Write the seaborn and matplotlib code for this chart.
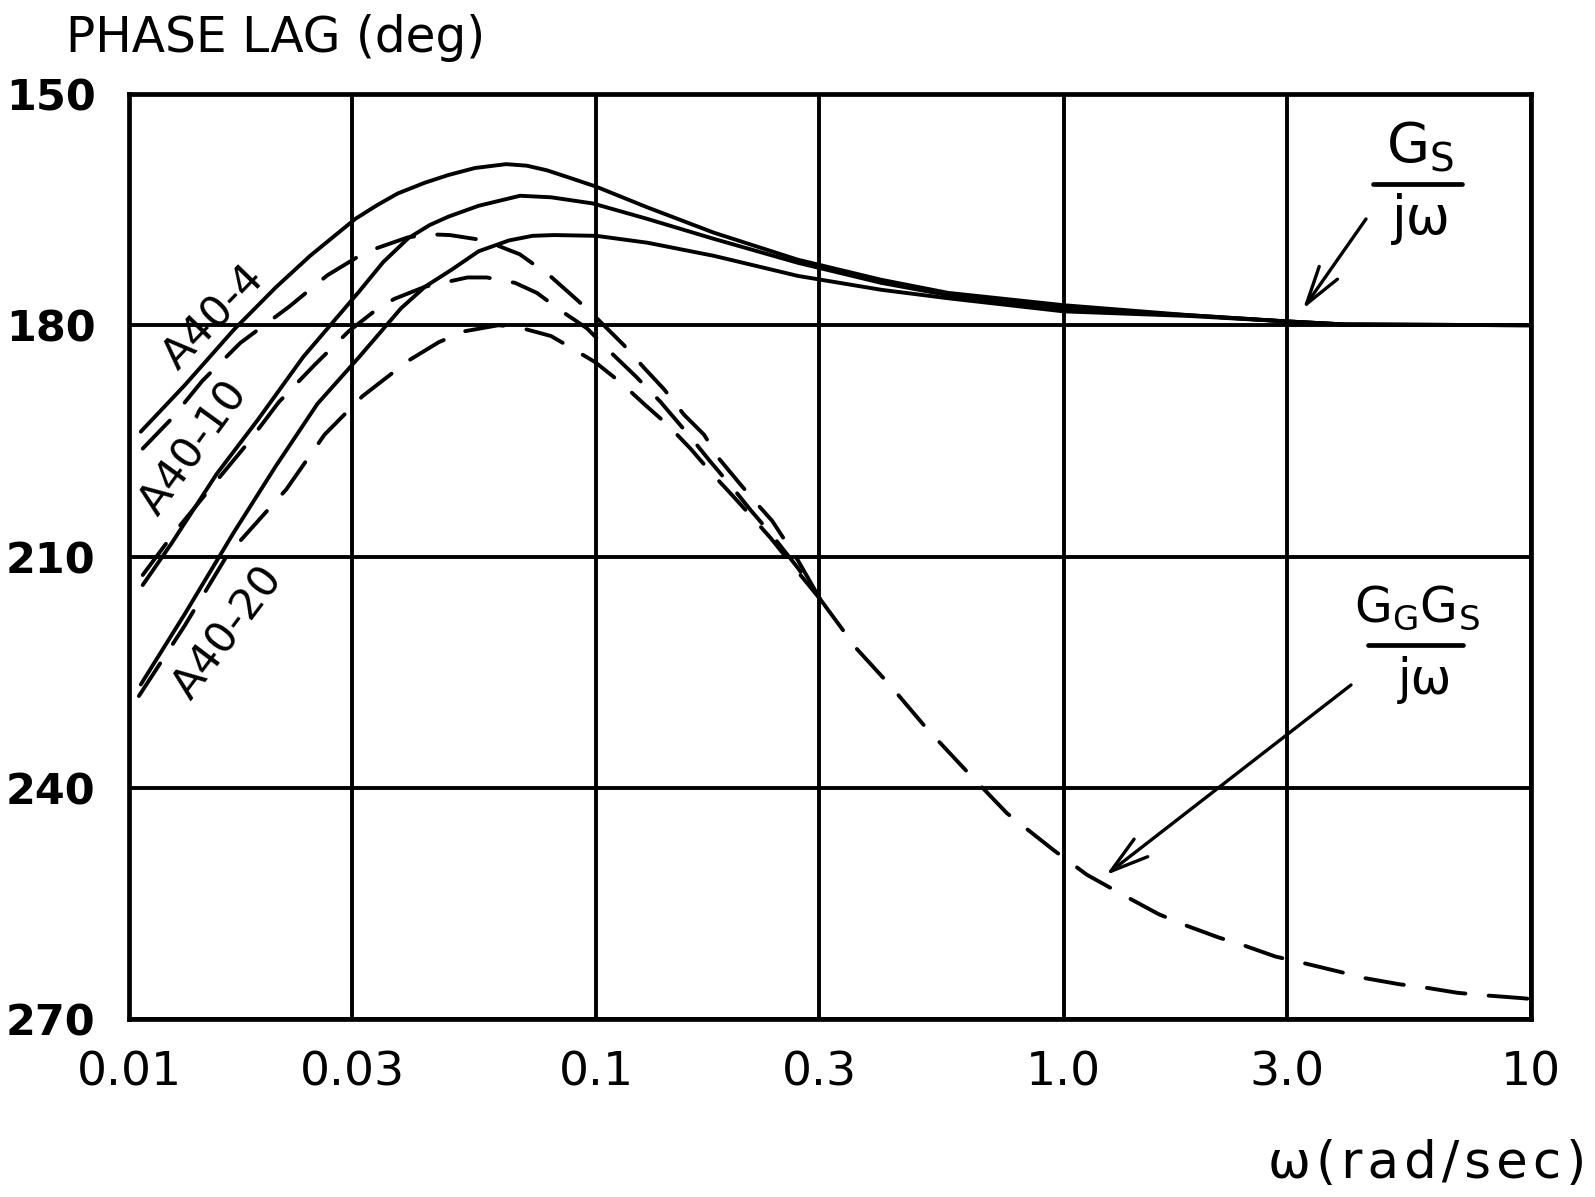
import numpy as np
import pandas as pd
import matplotlib
matplotlib.use("Agg")
import matplotlib.pyplot as plt
import seaborn as sns
from matplotlib.lines import Line2D

# ---------------- data ----------------
x_ticks = [0.01, 0.03, 0.1, 0.3, 1.0, 3.0, 10.0]
x_tick_labels = ["0.01", "0.03", "0.1", "0.3", "1.0", "3.0", "10"]
y_ticks = [150, 180, 210, 240, 270]
y_tick_labels = ["150", "180", "210", "240", "270"]

# Gs/jw (solid)
gs_w_a4 = [0.0106, 0.01315, 0.01675, 0.0206, 0.0244, 0.0305, 0.034, 0.0376, 0.043, 0.0483,
           0.055, 0.0641, 0.071, 0.0784, 0.088, 0.0997, 0.1285, 0.1786, 0.270, 0.407,
           0.566, 1.0, 1.86, 3.0, 4.0, 10.0]
gs_phi_a4 = [193.8, 187.8, 180.6, 175.1, 171.0, 166.2, 164.4, 162.9, 161.5, 160.5,
             159.6, 159.1, 159.3, 159.9, 160.9, 162.0, 164.7, 168.0, 171.5, 174.1,
             175.8, 177.4, 178.7, 179.5, 179.9, 180.0]

gs_w_a10 = [0.0107, 0.0123, 0.0154, 0.0189, 0.0236, 0.0311, 0.035, 0.0396, 0.044, 0.0483,
            0.056, 0.0687, 0.080, 0.0983, 0.1285, 0.1786, 0.270, 0.407, 0.566, 1.0,
            1.86, 3.0, 4.0, 10.0]
gs_phi_a10 = [213.7, 208.4, 199.3, 192.2, 184.1, 175.6, 171.8, 168.7, 167.0, 165.9,
              164.5, 163.2, 163.4, 164.2, 166.2, 168.8, 171.9, 174.5, 176.1, 177.8,
              178.7, 179.5, 179.9, 180.0]

gs_w_a20 = [0.0106, 0.01315, 0.01675, 0.0206, 0.0253, 0.0311, 0.0382, 0.043, 0.0490, 0.056,
            0.0650, 0.073, 0.0813, 0.1, 0.1288, 0.1786, 0.270, 0.407, 0.566, 1.0,
            1.86, 3.0, 4.0, 10.0]
gs_phi_a20 = [226.6, 217.5, 206.9, 198.3, 190.2, 184.1, 177.8, 175.0, 172.8, 170.4,
              169.0, 168.4, 168.3, 168.4, 169.3, 171.0, 173.6, 175.4, 176.5, 178.2,
              178.8, 179.5, 179.9, 180.0]

# GG Gs/jw (dashed)
gg_w_a4 = [0.0107, 0.0123, 0.01436, 0.0173, 0.0220, 0.0266, 0.0321, 0.0395, 0.044, 0.0486,
           0.0577, 0.0686, 0.0796, 0.0909, 0.0995, 0.1146, 0.1264, 0.1396, 0.154, 0.170,
           0.183, 0.2018, 0.218, 0.238, 0.27, 0.301]
gg_phi_a4 = [196.0, 192.2, 187.2, 182.3, 177.6, 173.5, 170.5, 168.6, 168.2, 168.3,
             169.0, 170.8, 173.6, 176.7, 178.9, 182.6, 185.5, 188.3, 191.6, 194.2,
             197.3, 200.4, 202.8, 205.4, 210.5, 215.5]

gg_w_a10 = [0.0107, 0.0125, 0.0151, 0.01795, 0.0209, 0.0249, 0.0295, 0.0333, 0.0369, 0.043,
            0.053, 0.0583, 0.067, 0.0746, 0.0844, 0.0955, 0.109, 0.1213, 0.137, 0.159,
            0.176, 0.197, 0.214, 0.236, 0.27, 0.301]
gg_phi_a10 = [212.4, 206.9, 200.8, 195.3, 190.0, 185.2, 180.8, 178.3, 176.6, 175.0,
              173.8, 173.8, 174.5, 175.8, 178.2, 180.4, 183.9, 186.6, 189.9, 194.5,
              197.8, 201.3, 204.0, 207.0, 211.5, 215.5]

gg_w_a20 = [0.0105, 0.01315, 0.0162, 0.0217, 0.0262, 0.0316, 0.0396, 0.046, 0.052, 0.0617,
            0.0676, 0.080, 0.0865, 0.0995, 0.1126, 0.127, 0.142, 0.159, 0.176, 0.197,
            0.214, 0.236, 0.27, 0.301]
gg_phi_a20 = [228.1, 219.0, 209.9, 201.3, 194.2, 189.2, 184.6, 182.2, 180.8, 180.0,
              180.2, 181.4, 182.6, 184.8, 187.4, 190.3, 192.9, 196.0, 199.1, 202.3,
              204.7, 207.6, 212.0, 215.5]

gg_w_tail = [0.301, 0.361, 0.425, 0.509, 0.621, 0.756, 0.952, 1.122, 1.368, 1.597,
             1.833, 2.14, 2.415, 2.84, 3.29, 3.91, 4.41, 5.24, 5.91, 6.96, 7.86, 9.58, 10.0]
gg_phi_tail = [215.5, 222.0, 226.7, 232.3, 237.9, 243.3, 248.1, 251.3, 254.2, 256.4,
               257.9, 259.4, 260.4, 261.9, 262.8, 263.9, 264.7, 265.5, 265.9, 266.6, 266.9,
               267.3, 267.4]

# ---------------- style ----------------
sns.set_theme(style="white")
plt.rcParams["font.family"] = ["DejaVu Sans"]
plt.rcParams.update({
    "text.color": "black", "axes.labelcolor": "black",
    "xtick.color": "black", "ytick.color": "black",
    "axes.edgecolor": "black", "mathtext.default": "regular",
})

W, H = 1595, 1197
fig = plt.figure(figsize=(W / 100, H / 100), dpi=100)
ax = fig.add_axes([129 / W, 1 - 1019 / H, (1531 - 129) / W, (1019 - 94) / H])
ax.set_xscale("log")

LW = 2.8
solid_sets = [(gs_w_a4, gs_phi_a4), (gs_w_a10, gs_phi_a10), (gs_w_a20, gs_phi_a20)]
for w, p in solid_sets:
    df = pd.DataFrame({"w": w, "phi": p})
    sns.lineplot(data=df, x="w", y="phi", ax=ax, color="black", lw=LW,
                 estimator=None, sort=False, zorder=4)
    ax.lines[-1].set_solid_joinstyle("round")

dashed_sets = [(gg_w_a4, gg_phi_a4), (gg_w_a10, gg_phi_a10), (gg_w_a20, gg_phi_a20),
               (gg_w_tail, gg_phi_tail)]
for w, p in dashed_sets:
    df = pd.DataFrame({"w": w, "phi": p})
    sns.lineplot(data=df, x="w", y="phi", ax=ax, color="black", lw=LW,
                 estimator=None, sort=False, zorder=4)
    ax.lines[-1].set_dashes((10, 6))
    ax.lines[-1].set_dash_capstyle("round")

ax.set_xlim(0.01, 10)
ax.set_ylim(270, 150)
ax.xaxis.set_minor_locator(matplotlib.ticker.NullLocator())
ax.set_xticks(x_ticks)
ax.set_xticklabels(x_tick_labels, fontsize=34)
ax.set_yticks(y_ticks)
ax.set_yticklabels(y_tick_labels, fontsize=31, fontweight="bold")
ax.tick_params(axis="x", length=0, pad=23)
ax.tick_params(axis="y", length=0, pad=24)
ax.set_xlabel("")
ax.set_ylabel("")
ax.grid(True, which="major", color="black", lw=2.8)
ax.set_axisbelow(True)
for s in ax.spines.values():
    s.set_linewidth(3.4)
    s.set_zorder(5)


def fp(x, y):
    return (x / W, 1 - y / H)


# axis titles
fig.text(*fp(66, 52), "PHASE LAG (deg)", fontsize=35, ha="left", va="baseline")
fig.text(*fp(1586, 1178), "ω\u200a(\u200ar\u200aa\u200ad\u200a/\u200as\u200ae\u200ac\u200a)",
         fontsize=37, ha="right", va="baseline")

# curve labels
fig.text(*fp(214, 318), "A40-4", fontsize=31, rotation=46, rotation_mode="anchor",
         ha="center", va="center")
fig.text(*fp(194, 448), "A40-10", fontsize=31, rotation=54, rotation_mode="anchor",
         ha="center", va="center")
fig.text(*fp(228, 633), "A40-20", fontsize=31, rotation=53, rotation_mode="anchor",
         ha="center", va="center")

# Gs / jw label
fig.text(*fp(1420, 163), r"$\mathregular{G_S}$", fontsize=40, ha="center", va="baseline")
fig.add_artist(Line2D([1373 / W, 1462 / W], [1 - 184 / H, 1 - 184 / H],
                      transform=fig.transFigure, color="black", lw=3.4))
fig.text(*fp(1421, 234), "jω", fontsize=38, ha="center", va="baseline")

# GG Gs / jw label
fig.text(*fp(1417, 622), r"$\mathregular{G_G G_S}$", fontsize=35, ha="center", va="baseline")
fig.add_artist(Line2D([1368 / W, 1463 / W], [1 - 645 / H, 1 - 645 / H],
                      transform=fig.transFigure, color="black", lw=3.4))
fig.text(*fp(1425, 694), "jω", fontsize=35, ha="center", va="baseline")

# arrows
arrow_kw = dict(arrowstyle="->,head_length=1.1,head_width=0.32", lw=2.4, color="black",
                mutation_scale=25, shrinkA=0, shrinkB=0)
ax.annotate("", xy=(1303, H - 309), xytext=(1366, H - 219), xycoords="figure pixels",
            textcoords="figure pixels", arrowprops=arrow_kw)
ax.annotate("", xy=(1106, H - 875), xytext=(1351, H - 685), xycoords="figure pixels",
            textcoords="figure pixels", arrowprops=arrow_kw)

fig.savefig("out.png", dpi=100)
